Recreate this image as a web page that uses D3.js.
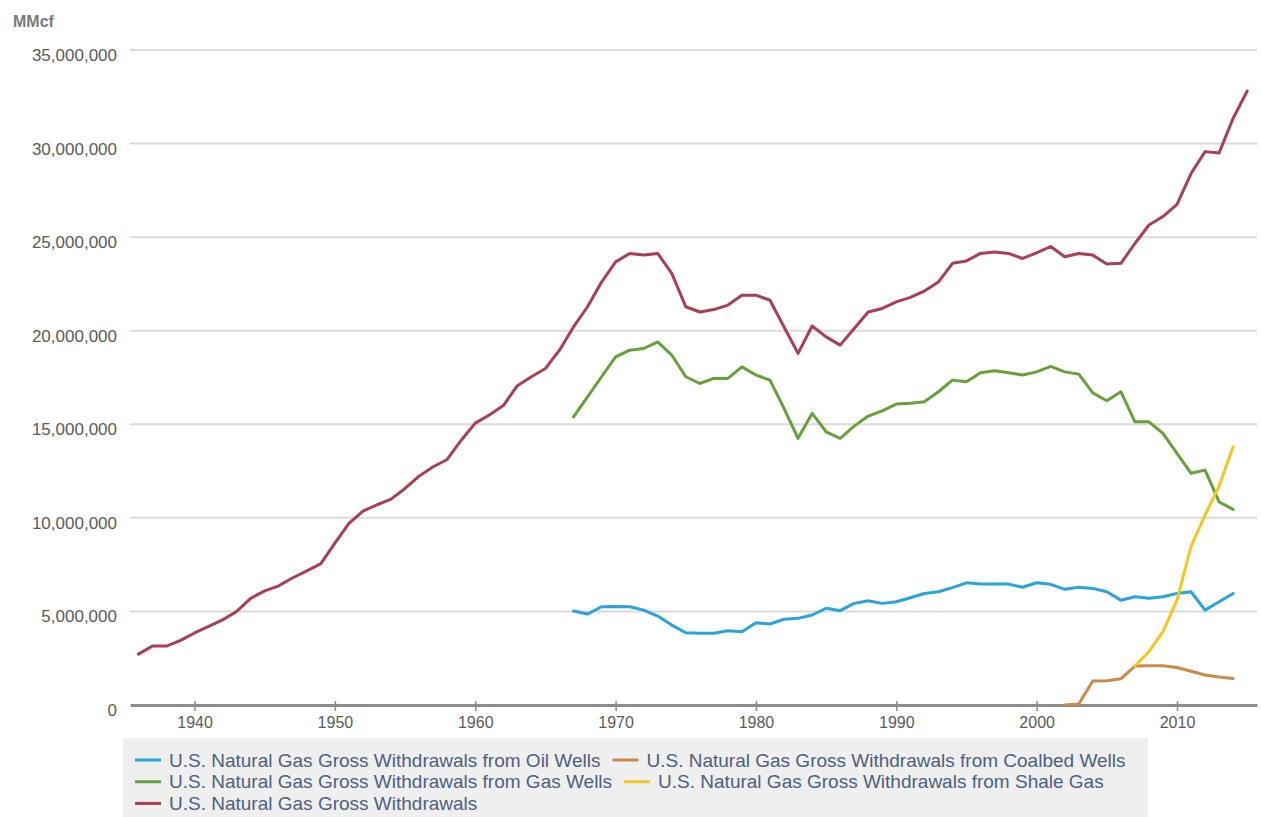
<!DOCTYPE html>
<html>
<head>
<meta charset="utf-8">
<script src="https://cdn.jsdelivr.net/npm/d3@7"></script>
<style>
	body { margin: 0; background: #fff; }
	svg { display: block; font-family: "Liberation Sans", Arial, sans-serif; }
</style>
</head>
<body>
<svg width="1261" height="817"></svg>
<script>
// values in MMcf (annual)
const grossStart = 1936;
const grossValues = [
	2720000, 3150000, 3150000, 3450000, 3850000, 4200000, 4550000, 5000000, 5700000, 6100000,
	6370000, 6800000, 7170000, 7550000, 8650000, 9700000, 10360000, 10700000, 11000000, 11570000,
	12230000, 12730000, 13120000, 14150000, 15060000, 15500000, 16000000, 17060000, 17540000, 17980000,
	18960000, 20200000, 21280000, 22600000, 23680000, 24130000, 24040000, 24130000, 23060000, 21280000,
	21000000, 21130000, 21370000, 21900000, 21900000, 21630000, 20200000, 18790000, 20250000, 19670000,
	19230000, 20120000, 21000000, 21190000, 21540000, 21780000, 22120000, 22600000, 23600000, 23730000,
	24130000, 24210000, 24130000, 23860000, 24160000, 24500000, 23950000, 24130000, 24040000, 23570000,
	23600000, 24660000, 25650000, 26100000, 26750000, 28400000, 29570000, 29500000, 31350000, 32800000
];

const gasWellsStart = 1967;
const gasWellsValues = [
	15400000, 16470000, 17540000, 18600000, 18960000, 19050000, 19400000, 18700000, 17540000, 17180000,
	17450000, 17450000, 18070000, 17630000, 17360000, 15850000, 14250000, 15580000, 14600000, 14250000,
	14900000, 15440000, 15720000, 16080000, 16120000, 16200000, 16740000, 17360000, 17270000, 17750000,
	17860000, 17750000, 17630000, 17800000, 18100000, 17800000, 17680000, 16680000, 16260000, 16740000,
	15130000, 15130000, 14510000, 13450000, 12380000, 12550000, 10850000, 10450000
];

const oilWellsStart = 1967;
const oilWellsValues = [
	5020000, 4860000, 5250000, 5260000, 5250000, 5070000, 4750000, 4270000, 3860000, 3830000,
	3830000, 3970000, 3910000, 4400000, 4330000, 4580000, 4630000, 4810000, 5170000, 5040000,
	5430000, 5570000, 5430000, 5520000, 5730000, 5960000, 6050000, 6270000, 6530000, 6460000,
	6460000, 6460000, 6290000, 6530000, 6450000, 6180000, 6290000, 6230000, 6050000, 5600000,
	5780000, 5700000, 5780000, 5960000, 6050000, 5070000, 5520000, 5960000
];

const coalbedStart = 2002;
const coalbedValues = [
	0, 50000, 1280000, 1300000, 1400000, 2080000, 2100000, 2100000, 2000000, 1800000,
	1600000, 1500000, 1420000
];

const shaleStart = 2007;
const shaleValues = [2080000, 2850000, 3920000, 5600000, 8460000, 10150000, 11700000, 13800000];

const yTicks = [0, 5000000, 10000000, 15000000, 20000000, 25000000, 30000000, 35000000];
const xTicks = [1940, 1950, 1960, 1970, 1980, 1990, 2000, 2010];

const seriesNames = [
	'U.S. Natural Gas Gross Withdrawals from Oil Wells',
	'U.S. Natural Gas Gross Withdrawals from Coalbed Wells',
	'U.S. Natural Gas Gross Withdrawals from Gas Wells',
	'U.S. Natural Gas Gross Withdrawals from Shale Gas',
	'U.S. Natural Gas Gross Withdrawals'
];
const seriesColors = ['#2aa3dc', '#c98a4c', '#67a03a', '#f6c623', '#a83f53'];

function toPoints(start, values) {
	return values.map((v, i) => ({year: start + i, value: v}));
}

const series = [
	toPoints(oilWellsStart, oilWellsValues),
	toPoints(coalbedStart, coalbedValues),
	toPoints(gasWellsStart, gasWellsValues),
	toPoints(shaleStart, shaleValues),
	toPoints(grossStart, grossValues)
];

const svg = d3.select('svg'),
	left = 130,
	right = 1257;

const x = d3.scaleLinear().domain([1935.4, 2015.7]).range([left, right]);
const y = d3.scaleLinear().domain([0, 35000000]).range([705, 50]);

// unit label
svg.append('text')
	.attr('x', 13).attr('y', 27)
	.attr('font-size', 16).attr('font-weight', 'bold')
	.attr('fill', '#7a7a7a')
	.text('MMcf');

// grid
svg.append('g')
	.selectAll('line')
	.data(yTicks.filter(d => d > 0))
	.enter().append('line')
	.attr('x1', left).attr('x2', right)
	.attr('y1', d => y(d)).attr('y2', d => y(d))
	.attr('stroke', '#dadada')
	.attr('stroke-width', 2);

// y axis labels
let yAxis = svg.append('g')
	.attr('transform', 'translate(117,0)')
	.call(d3.axisLeft(y).tickValues(yTicks).tickSize(0).tickPadding(0).tickFormat(d3.format(',')));
yAxis.select('.domain').remove();
yAxis.selectAll('text')
	.attr('font-size', 17)
	.attr('font-family', '"Liberation Sans", Arial, sans-serif')
	.attr('fill', '#5a5a5a')
	.attr('dy', '0.62em');

// x axis
let xAxis = svg.append('g')
	.attr('transform', 'translate(0,705)')
	.call(d3.axisBottom(x).tickValues(xTicks).tickSize(6).tickSizeOuter(0).tickPadding(6).tickFormat(d3.format('d')));
xAxis.select('.domain').attr('stroke', '#8c8c8c').attr('stroke-width', 3);
xAxis.selectAll('.tick line').attr('stroke', '#8c8c8c').attr('stroke-width', 1.5).attr('y1', -4);
xAxis.selectAll('text')
	.attr('font-size', 16)
	.attr('font-family', '"Liberation Sans", Arial, sans-serif')
	.attr('fill', '#5a5a5a');

// lines
const line = d3.line()
	.x(d => x(d.year))
	.y(d => y(d.value));

svg.append('g')
	.attr('class', 'lines')
	.selectAll('path')
	.data(series)
	.enter().append('path')
	.attr('d', line)
	.attr('fill', 'none')
	.attr('stroke', (d, i) => seriesColors[i])
	.attr('stroke-width', 3)
	.attr('stroke-linejoin', 'round')
	.attr('stroke-linecap', 'round');

// legend
const legendRows = [[0, 1], [2, 3], [4]];
let legend = svg.append('g').attr('class', 'legend');
legend.append('rect')
	.attr('x', 123).attr('y', 738)
	.attr('width', 1025).attr('height', 85)
	.attr('fill', '#efefef');

legendRows.forEach((row, r) => {
	let cy = 760 + r * 21.7;
	let cx = 135;
	row.forEach(idx => {
		legend.append('line')
			.attr('x1', cx).attr('x2', cx + 26)
			.attr('y1', cy).attr('y2', cy)
			.attr('stroke', seriesColors[idx])
			.attr('stroke-width', 3);
		let t = legend.append('text')
			.attr('x', cx + 34).attr('y', cy + 6.5)
			.attr('font-size', 19)
			.attr('fill', '#4d6080')
			.text(seriesNames[idx]);
		cx += 34 + t.node().getComputedTextLength() + 12;
	});
});
</script>
</body>
</html>
